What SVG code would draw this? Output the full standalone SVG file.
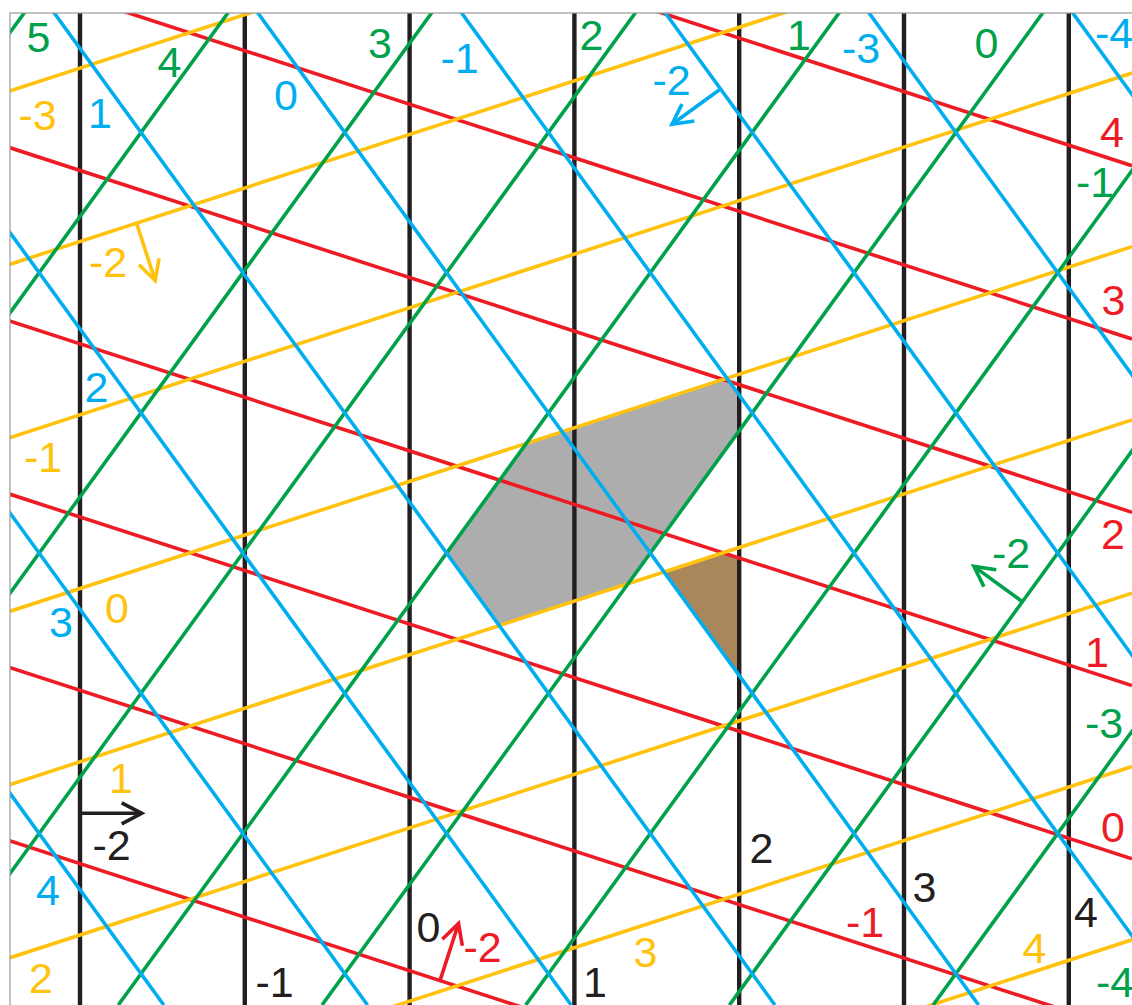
<svg xmlns="http://www.w3.org/2000/svg" width="1132" height="1005" viewBox="0 0 1132 1005">
<style>
.bk{stroke:#231f20;stroke-width:4.4;fill:none}
.rd{stroke:#ed1c24;stroke-width:3.6;fill:none}
.yl{stroke:#ffc20e;stroke-width:3.6;fill:none}
.gn{stroke:#00a14b;stroke-width:3.6;fill:none}
.bl{stroke:#00aeef;stroke-width:3.6;fill:none}
text{font-family:"Liberation Sans",Arial,sans-serif;font-size:43px;text-anchor:middle}
.tbk{fill:#231f20}.trd{fill:#ed1c24}.tyl{fill:#ffc20e}.tgn{fill:#00a14b}.tbl{fill:#00aeef}
</style>
<defs>
<clipPath id="frame"><rect x="10" y="13" width="1122" height="992"/></clipPath>
<marker id="mbk" viewBox="-22 -12 24 24" markerWidth="24" markerHeight="24" refX="0" refY="0" markerUnits="userSpaceOnUse" orient="auto" overflow="visible"><path d="M-20,-10.5 L0,0 L-20,10.5" fill="none" stroke="#231f20" stroke-width="3.6"/></marker>
<marker id="mrd" viewBox="-22 -12 24 24" markerWidth="24" markerHeight="24" refX="0" refY="0" markerUnits="userSpaceOnUse" orient="auto" overflow="visible"><path d="M-20,-10.5 L0,0 L-20,10.5" fill="none" stroke="#ed1c24" stroke-width="3.6"/></marker>
<marker id="myl" viewBox="-22 -12 24 24" markerWidth="24" markerHeight="24" refX="0" refY="0" markerUnits="userSpaceOnUse" orient="auto" overflow="visible"><path d="M-20,-10.5 L0,0 L-20,10.5" fill="none" stroke="#ffc20e" stroke-width="3.6"/></marker>
<marker id="mgn" viewBox="-22 -12 24 24" markerWidth="24" markerHeight="24" refX="0" refY="0" markerUnits="userSpaceOnUse" orient="auto" overflow="visible"><path d="M-20,-10.5 L0,0 L-20,10.5" fill="none" stroke="#00a14b" stroke-width="3.6"/></marker>
<marker id="mbl" viewBox="-22 -12 24 24" markerWidth="24" markerHeight="24" refX="0" refY="0" markerUnits="userSpaceOnUse" orient="auto" overflow="visible"><path d="M-20,-10.5 L0,0 L-20,10.5" fill="none" stroke="#00aeef" stroke-width="3.6"/></marker>
</defs>
<rect x="0" y="0" width="1132" height="1005" fill="#ffffff"/>
<g id="regions">
<polygon id="gray-region" points="446.6,553.1 526.2,443.5 727.0,378.3 739.2,395.1 739.2,430.7 628.1,583.7 499.2,625.5" fill="#adadad"/>
<polygon id="brown-region" points="664.0,572.0 723.3,552.8 739.2,557.9 739.2,675.5" fill="#aa875b"/>
</g>
<g id="connectors" clip-path="url(#frame)">
<g id="black-lines" class="bk">
<line x1="80" y1="13" x2="80" y2="1005"/>
<line x1="244.8" y1="13" x2="244.8" y2="1005"/>
<line x1="409.6" y1="13" x2="409.6" y2="1005"/>
<line x1="574.4" y1="13" x2="574.4" y2="1005"/>
<line x1="739.2" y1="13" x2="739.2" y2="1005"/>
<line x1="904" y1="13" x2="904" y2="1005"/>
<line x1="1068.8" y1="13" x2="1068.8" y2="1005"/>
</g>
<g id="red-lines" class="rd">
<line x1="0" y1="837.6" x2="1132" y2="1205.4"/>
<line x1="0" y1="664.3" x2="1132" y2="1032.1"/>
<line x1="0" y1="491.0" x2="1132" y2="858.8"/>
<line x1="0" y1="317.8" x2="1132" y2="685.6"/>
<line x1="0" y1="144.5" x2="1132" y2="512.3"/>
<line x1="0" y1="-28.8" x2="1132" y2="339.0"/>
<line x1="0" y1="-202.1" x2="1132" y2="165.7"/>
</g>
<g id="yellow-lines" class="yl">
<line x1="0" y1="94.2" x2="1132" y2="-273.6"/>
<line x1="0" y1="267.5" x2="1132" y2="-100.3"/>
<line x1="0" y1="440.8" x2="1132" y2="73.0"/>
<line x1="0" y1="614.5" x2="1132" y2="246.6"/>
<line x1="0" y1="787.8" x2="1132" y2="419.9"/>
<line x1="0" y1="961.0" x2="1132" y2="593.2"/>
<line x1="0" y1="1134.3" x2="1132" y2="766.5"/>
<line x1="0" y1="1307.6" x2="1132" y2="939.8"/>
</g>
<g id="green-lines" class="gn">
<line x1="33.6" y1="0" x2="-696.6" y2="1005"/>
<line x1="237.3" y1="0" x2="-492.9" y2="1005"/>
<line x1="441.0" y1="0" x2="-289.2" y2="1005"/>
<line x1="644.7" y1="0" x2="-85.5" y2="1005"/>
<line x1="848.4" y1="0" x2="118.3" y2="1005"/>
<line x1="1052.1" y1="0" x2="322.0" y2="1005"/>
<line x1="1255.9" y1="0" x2="525.7" y2="1005"/>
<line x1="1459.6" y1="0" x2="729.4" y2="1005"/>
<line x1="1663.3" y1="0" x2="933.1" y2="1005"/>
</g>
<g id="blue-lines" class="bl">
<line x1="1063.3" y1="0" x2="1793.5" y2="1005"/>
<line x1="859.6" y1="0" x2="1589.8" y2="1005"/>
<line x1="655.9" y1="0" x2="1386.1" y2="1005"/>
<line x1="452.2" y1="0" x2="1182.3" y2="1005"/>
<line x1="248.5" y1="0" x2="978.6" y2="1005"/>
<line x1="44.8" y1="0" x2="774.9" y2="1005"/>
<line x1="-159.0" y1="0" x2="571.2" y2="1005"/>
<line x1="-362.7" y1="0" x2="367.5" y2="1005"/>
<line x1="-566.4" y1="0" x2="163.8" y2="1005"/>
</g>
<g id="arrows">
<line class="bk" style="stroke-width:3.6" x1="80" y1="813.3" x2="141.7" y2="813.3" marker-end="url(#mbk)"/>
<line class="yl" x1="136.7" y1="223.5" x2="155.2" y2="280.6" marker-end="url(#myl)"/>
<line class="bl" x1="720.5" y1="89" x2="672" y2="124.3" marker-end="url(#mbl)"/>
<line class="gn" x1="1022.4" y1="601.7" x2="973.9" y2="566.4" marker-end="url(#mgn)"/>
<line class="rd" x1="440" y1="980.6" x2="458.5" y2="923.5" marker-end="url(#mrd)"/>
</g>
</g>
<rect x="10" y="13" width="1130" height="1000" fill="none" stroke="#9a9a9a" stroke-width="1.2"/>
<g id="labels-green" class="tgn">
<text x="38.5" y="52">5</text>
<text x="169.5" y="77">4</text>
<text x="380" y="58">3</text>
<text x="591.5" y="50">2</text>
<text x="799" y="50">1</text>
<text x="986.5" y="58">0</text>
<text x="1095" y="197">-1</text>
<text x="1011" y="568">-2</text>
<text x="1104" y="738">-3</text>
<text x="1115" y="997">-4</text>
</g>
<g id="labels-blue" class="tbl">
<text x="100" y="128">1</text>
<text x="286" y="110">0</text>
<text x="459.5" y="73">-1</text>
<text x="671.5" y="95">-2</text>
<text x="861" y="63">-3</text>
<text x="1114" y="48">-4</text>
<text x="96.5" y="402">2</text>
<text x="61" y="637">3</text>
<text x="48" y="905">4</text>
</g>
<g id="labels-yellow" class="tyl">
<text x="37.5" y="130">-3</text>
<text x="108" y="277">-2</text>
<text x="43" y="472">-1</text>
<text x="117" y="623">0</text>
<text x="121" y="793">1</text>
<text x="41" y="993">2</text>
<text x="645.5" y="967">3</text>
<text x="1034.5" y="963">4</text>
</g>
<g id="labels-red" class="trd">
<text x="1112" y="147">4</text>
<text x="1113.5" y="315">3</text>
<text x="1113" y="549">2</text>
<text x="1097" y="667">1</text>
<text x="1113" y="842">0</text>
<text x="865" y="937">-1</text>
<text x="482.5" y="962">-2</text>
</g>
<g id="labels-black" class="tbk">
<text x="111.5" y="860">-2</text>
<text x="274.5" y="997">-1</text>
<text x="428.5" y="942">0</text>
<text x="595" y="997">1</text>
<text x="761.5" y="863">2</text>
<text x="924.5" y="902">3</text>
<text x="1086" y="927">4</text>
</g>
</svg>
